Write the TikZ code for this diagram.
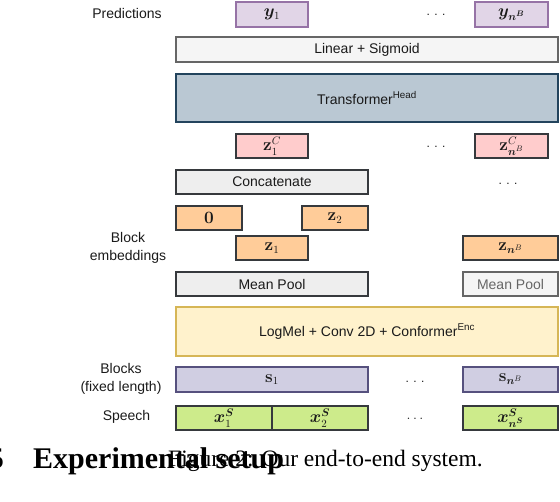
\documentclass[tikz,border=0pt]{standalone}
\usepackage[no-math]{fontspec}
\setmainfont{Liberation Sans}
\newfontfamily\seriffont{Liberation Serif}
\usepackage{bm}
\definecolor{txtdark}{HTML}{1A1A1A}
\definecolor{predfill}{HTML}{E1D5E7}
\definecolor{predline}{HTML}{9673A6}
\definecolor{linfill}{HTML}{F5F5F5}
\definecolor{linline}{HTML}{666666}
\definecolor{trfill}{HTML}{BAC8D3}
\definecolor{trline}{HTML}{23445D}
\definecolor{zcfill}{HTML}{FFCCCC}
\definecolor{catfill}{HTML}{EEEEEE}
\definecolor{embfill}{HTML}{FFCC99}
\definecolor{darkline}{HTML}{36393D}
\definecolor{encfill}{HTML}{FFF2CC}
\definecolor{encline}{HTML}{D6B656}
\definecolor{blkfill}{HTML}{D0CEE2}
\definecolor{blkline}{HTML}{56517E}
\definecolor{spfill}{HTML}{CDEB8B}

\begin{document}
\begin{tikzpicture}[x=1pt,y=-1pt,
  box/.style={draw, line width=1.3pt, inner sep=0pt, text=txtdark,
    font=\fontsize{14}{16}\selectfont},
  mathbox/.style={box, font=\fontsize{16}{18}\selectfont},
  predbox/.style={mathbox, fill=predfill, draw=predline},
  zcbox/.style={mathbox, fill=zcfill, draw=darkline},
  embbox/.style={mathbox, fill=embfill, draw=darkline},
  greybox/.style={box, fill=catfill, draw=darkline},
  blkbox/.style={mathbox, fill=blkfill, draw=blkline},
  spbox/.style={mathbox, fill=spfill, draw=darkline},
  sidelabel/.style={inner sep=0pt, text=txtdark, align=center,
    font=\fontsize{14}{18}\selectfont},
  smalldots/.style={inner sep=0pt, text=txtdark, font=\fontsize{12}{12}\selectfont},
  bigdots/.style={inner sep=0pt, text=txtdark, font=\fontsize{15}{15}\selectfont}]
\useasboundingbox (0,0) rectangle (560,502);
\node[sidelabel] (predlabel) at (127,14) {Predictions};
\node[predbox, minimum width=72pt, minimum height=25pt] (y1) at (272,14.5) {$\bm{y}_1$};
\node[smalldots] (ydots) at (436,15) {. . .};
\node[predbox, minimum width=73pt, minimum height=25pt] (ynb) at (511.5,14.5) {$\bm{y_{n^B}}$};
\node[box, fill=linfill, draw=linline, minimum width=382pt, minimum height=25pt] (linear) at (367,49.5) {Linear + Sigmoid};
\node[box, fill=trfill, draw=trline, minimum width=382pt, minimum height=48pt] (transformer) at (367,98) {Transformer\textsuperscript{Head}};
\node[zcbox, minimum width=72pt, minimum height=24pt] (zc1) at (272,146) {$\mathbf{z}_1^C$};
\node[smalldots] (zcdots) at (436,147) {. . .};
\node[zcbox, minimum width=73pt, minimum height=24pt] (zcnb) at (511.5,146) {$\mathbf{z}_{\bm{n}^B}^C$};
\node[greybox, minimum width=192pt, minimum height=24pt] (concat) at (272,182) {Concatenate};
\node[smalldots] (catdots) at (508,184) {. . .};
\node[embbox, minimum width=66pt, minimum height=24pt] (zero) at (209,218) {$\mathbf{0}$};
\node[embbox, minimum width=66pt, minimum height=24pt] (z2) at (335,218) {$\mathbf{z}_2$};
\node[sidelabel] (emblabel) at (128,248) {Block\\embeddings};
\node[embbox, minimum width=72pt, minimum height=24pt] (z1) at (272,248) {$\mathbf{z}_1$};
\node[embbox, minimum width=95pt, minimum height=24pt] (znb) at (510.5,248) {$\mathbf{z}_{\bm{n}^B}$};
\node[greybox, minimum width=192pt, minimum height=24pt] (pool1) at (272,284) {Mean Pool};
\node[box, fill=linfill, draw=linline, text=linline, minimum width=95pt, minimum height=24pt] (poolnb) at (510.5,284) {Mean Pool};
\node[box, fill=encfill, draw=encline, minimum width=382pt, minimum height=49pt] (encoder) at (367,331.5) {LogMel + Conv 2D + Conformer\textsuperscript{Enc}};
\node[sidelabel] (blklabel) at (121,379) {Blocks\\(fixed length)};
\node[blkbox, minimum width=192pt, minimum height=25pt] (s1) at (272,379.5) {$\mathbf{s}_1$};
\node[smalldots] (sdots) at (415,382) {. . .};
\node[blkbox, minimum width=95pt, minimum height=25pt] (snb) at (510.5,379.5) {$\mathbf{s}_{\bm{n}^B}$};
\node[sidelabel] (splabel) at (126.5,417) {Speech};
\node[spbox, minimum width=96pt, minimum height=24pt] (x1) at (224,418) {$\bm{x}_1^{\bm{S}}$};
\node[spbox, minimum width=96pt, minimum height=24pt] (x2) at (320,418) {$\bm{x}_2^{\bm{S}}$};
\node[bigdots] (xdots) at (415,419) {$\ldots$};
\node[spbox, minimum width=95pt, minimum height=24pt] (xns) at (510.5,418) {$\bm{x}_{\bm{n}^{\bm{S}}}^{\bm{S}}$};
\node[inner sep=0pt, anchor=base west, font=\seriffont\fontsize{23.5}{26}\selectfont] (caption) at (168,467) {Figure 2: Our end-to-end system.};
\node[inner sep=0pt, anchor=base east, font=\seriffont\bfseries\fontsize{30}{32}\selectfont] (secnum) at (4,469) {5};
\node[inner sep=0pt, anchor=base west, font=\seriffont\bfseries\fontsize{30}{32}\selectfont] (section) at (33,469) {Experimental setup};
\end{tikzpicture}
\end{document}
